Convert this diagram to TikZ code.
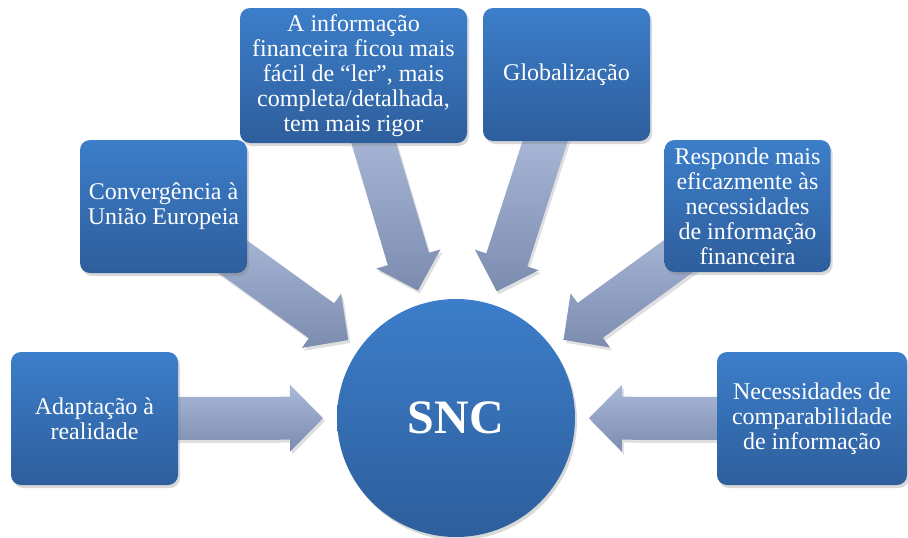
\documentclass[tikz,border=0pt]{standalone}
\usepackage{fontspec}
\setmainfont{Liberation Serif}
\usetikzlibrary{calc,shadows,backgrounds}

\definecolor{boxtop}{RGB}{60,126,202}
\definecolor{boxbot}{RGB}{46,94,156}
\definecolor{arrtop}{RGB}{170,185,217}
\definecolor{arrbot}{RGB}{124,140,175}

\tikzset{
    box/.style={rectangle, rounded corners=10pt, top color=boxtop,
        bottom color=boxbot, text=white, align=center, inner sep=3pt,
        font=\fontsize{24}{25}\selectfont,
        drop shadow={shadow xshift=2pt, shadow yshift=-3pt, opacity=0.3}},
    hub/.style={circle, top color=boxtop, bottom color=boxbot, text=white,
        minimum size=238pt, inner sep=0pt,
        font=\fontsize{48}{48}\selectfont\bfseries,
        drop shadow={shadow xshift=2pt, shadow yshift=-3pt, opacity=0.3}},
    blockarrow/.style={top color=arrtop, bottom color=arrbot,
        drop shadow={shadow xshift=2pt, shadow yshift=-3pt, opacity=0.25}}
}

\begin{document}
\begin{tikzpicture}[x=1pt, y=-1pt]
\useasboundingbox (0,0) rectangle (908,538);

% centre
\node[hub] (snc) at (456,418) {SNC};

% the six causes
\node[box, minimum width=167pt, minimum height=133pt] (adapt) at (94.5,418.5)
    {Adaptação à\\realidade};
\node[box, minimum width=167pt, minimum height=133pt] (conv) at (163.5,206.5)
    {Convergência à\\União Europeia};
\node[box, minimum width=227pt, minimum height=135pt] (info) at (353.5,75.5)
    {A informação\\financeira ficou mais\\fácil de “ler”, mais\\completa/detalhada,\\tem mais rigor};
\node[box, minimum width=167pt, minimum height=133pt] (glob) at (566.5,74.5)
    {Globalização};
\node[box, minimum width=166pt, minimum height=132pt] (resp) at (747.5,206)
    {Responde mais\\eficazmente às\\necessidades\\de informação\\financeira};
\node[box, minimum width=190pt, minimum height=133pt] (nec) at (812,418.5)
    {Necessidades de\\comparabilidade\\de informação};

% block arrows, under the boxes
\begin{pgfonlayer}{background}
\foreach \b in {adapt,conv,info,glob,resp,nec}{
    \coordinate (tip) at ($(snc.center)!133pt!(\b.center)$);
    \coordinate (neck) at ($(snc.center)!166pt!(\b.center)$);
    \coordinate (tail) at ($(snc.center)!300pt!(\b.center)$);
    \path[blockarrow] ($(tail)!21.5pt!90:(snc.center)$)
        -- ($(neck)!21.5pt!90:(snc.center)$)
        -- ($(neck)!33.5pt!90:(snc.center)$)
        -- (tip)
        -- ($(neck)!33.5pt!-90:(snc.center)$)
        -- ($(neck)!21.5pt!-90:(snc.center)$)
        -- ($(tail)!21.5pt!-90:(snc.center)$) -- cycle;
}
\end{pgfonlayer}
\end{tikzpicture}
\end{document}
